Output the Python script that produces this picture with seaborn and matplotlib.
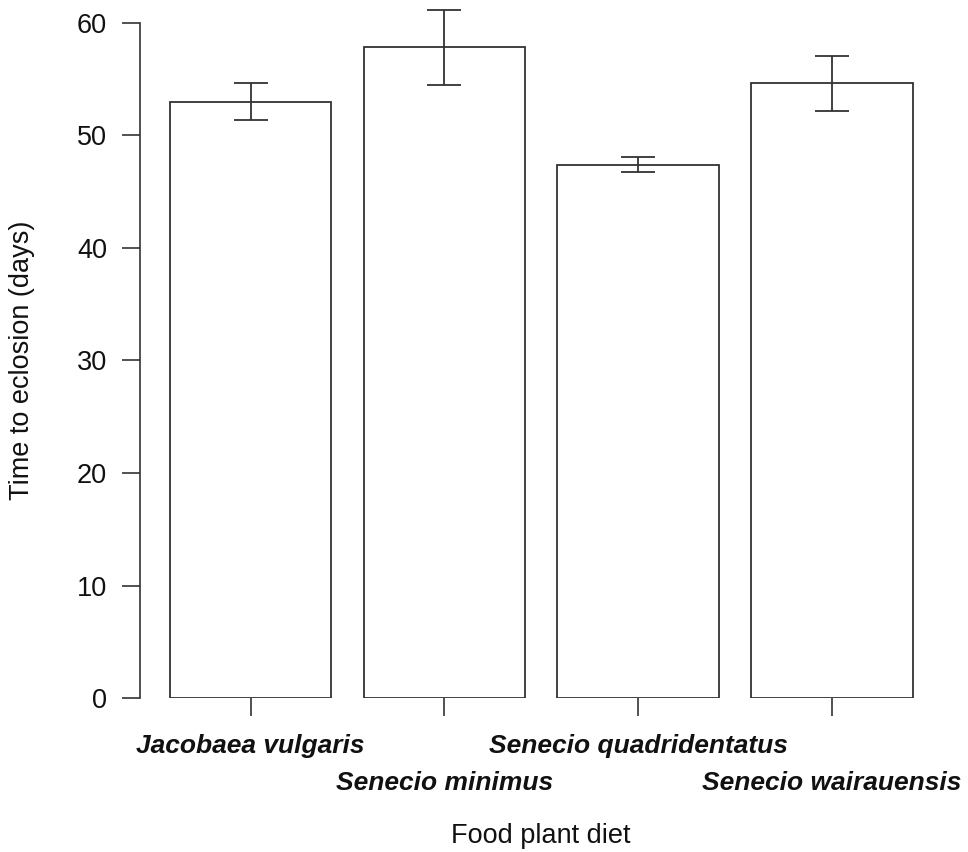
import numpy as np
import matplotlib
matplotlib.use("Agg")
import matplotlib.pyplot as plt
import matplotlib.transforms as mtransforms
import seaborn as sns

# values
diets = ["Jacobaea vulgaris", "Senecio minimus",
         "Senecio quadridentatus", "Senecio wairauensis"]
mean_days = [53.0, 57.8, 47.4, 54.6]
se_days = [1.6, 3.35, 0.7, 2.45]
y_ticks = [0, 10, 20, 30, 40, 50, 60]

sns.set_theme(style="ticks")
plt.rcParams["font.family"] = ["Liberation Sans", "DejaVu Sans"]

line_col = "#333333"

fig = plt.figure(figsize=(9.68, 8.52), dpi=100)
ax = fig.add_axes([0.1449, 0.1804, 0.8286, 0.8194])

sns.barplot(x=diets, y=mean_days, color="white", edgecolor=line_col,
            linewidth=1.3, width=1 / 1.2, saturation=1, ax=ax)
ax.errorbar(np.arange(len(diets)), mean_days, yerr=se_days, fmt="none",
            ecolor=line_col, elinewidth=1.3, capsize=12.5, capthick=1.3)

ax.set_xlim(-0.57, 3.57)
ax.set_ylim(0, 62)
ax.set_yticks(y_ticks)
ax.set_xticks(np.arange(len(diets)))
ax.set_xticklabels([])
ax.tick_params(axis="both", direction="out", length=13, width=1.2,
               color=line_col, labelsize=19.5, labelcolor="#111111", pad=11)

for side in ["top", "right", "bottom"]:
    ax.spines[side].set_visible(False)
ax.spines["left"].set_bounds(0, 60)
ax.spines["left"].set_color(line_col)
ax.spines["left"].set_linewidth(1.2)

# staggered italic bold category labels
trans = mtransforms.blended_transform_factory(ax.transData, fig.transFigure)
rows = [(852 - 753) / 852, (852 - 790) / 852]
for i, name in enumerate(diets):
    ax.text(i, rows[i % 2], name, transform=trans, ha="center", va="baseline",
            fontsize=19, fontweight="bold", fontstyle="italic", color="#111111")

fig.text(0.5587, (852 - 843) / 852, "Food plant diet", ha="center",
         va="baseline", fontsize=19.5, color="#111111")
fig.text(22 / 968, (852 - 360) / 852, "Time to eclosion (days)", ha="center",
         va="center", rotation=90, fontsize=19.5, color="#111111")

fig.savefig("out.png", dpi=100)
